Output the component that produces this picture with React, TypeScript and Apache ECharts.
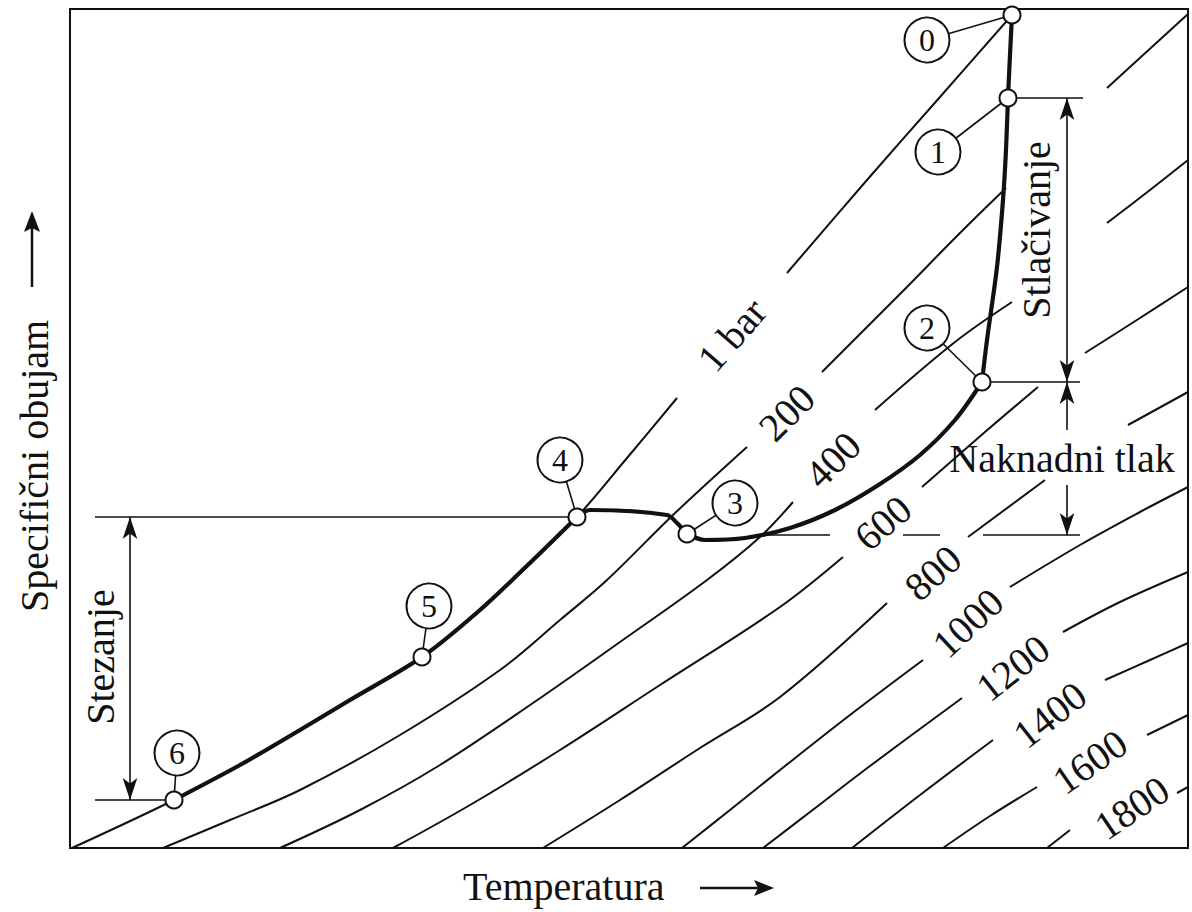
import React, { useEffect, useRef } from "react";
import * as echarts from "echarts";

const FONT = '"Liberation Serif", "Times New Roman", serif';
const INK = "#111111";

// Axis extents in arbitrary units (temperature T, specific volume v)
const T_MAX = 111.8;
const V_MAX = 83.9;

// Isobar names, in order from left (low pressure) to right (high pressure)
const isobarNames = ["1 bar", "200", "400", "600", "800", "1000", "1200", "1400", "1600", "1800"];

// Each isobar is a list of segments (gaps where labels / annotations sit); points are [T, v]
const isobar1bar = [
  [[0.2, 0], [10.4, 4.8], [17, 8.3], [23, 11.8], [28, 14.8], [35.2, 19.1], [41, 23.8], [46.3, 28.8], [50.7, 33.1], [55.7, 39], [60.7, 45]],
  [[71.7, 57.5], [79.7, 66.8], [87, 75.1], [94.2, 83.3]],
];
const isobar200 = [
  [[9.3, 0], [16, 2.8], [23, 5.8], [33, 11.3], [43, 17.8], [49, 22.8], [53.7, 26.8], [60.3, 33.3], [67.7, 40.1]],
  [[75.2, 47.6], [83, 55.4], [89, 61.5], [93.6, 66]],
  [[103.7, 76], [111.8, 83.4]],
];
const isobar400 = [
  [[21, 0], [29, 3.8], [37, 8.3], [46.3, 14.5], [55, 20.6], [63.7, 26.8], [69, 31.1], [72.3, 34.6]],
  [[80.5, 43.8], [88.5, 50.6], [94.2, 54.6]],
  [[103.7, 62.5], [108, 65.8], [111.8, 68.8]],
];
const isobar600 = [
  [[32.3, 0], [40, 4.3], [49, 9.8], [59, 16.3], [71, 24.1], [77.3, 29.1]],
  [[85.2, 36.1], [91.5, 41.6], [96.8, 46.1]],
  [[101.5, 49.5], [107, 53], [111.8, 56.1]],
];
const isobar800 = [
  [[47.3, 0], [55, 4.8], [63, 10], [71, 15.1], [81.7, 24.5]],
  [[89.8, 31.1], [97.5, 36.8]],
  [[105.8, 42.3], [111.8, 45.6]],
];
const isobar1000 = [
  [[61.2, 0], [66, 3.8], [71, 7.8], [78, 13.3], [85.3, 18.8]],
  [[94, 26.1], [101, 30.3], [107, 33.6], [111.8, 36.1]],
];
const isobar1200 = [
  [[69.3, 0], [74, 3.6], [80, 8.2], [89.2, 15]],
  [[99.3, 21.6], [105, 24.6], [111.8, 27.6]],
];
const isobar1400 = [
  [[78.2, 0], [85, 5.3], [92.3, 10.8]],
  [[103.5, 16.8], [108, 18.8], [111.8, 20.5]],
];
const isobar1600 = [
  [[87.3, 0], [92, 3.2], [96.7, 6.1]],
  [[107.7, 11.3], [111.8, 13.3]],
];
const isobar1800 = [
  [[97.7, 0], [100, 1.8]],
  [[110.7, 5.5], [111.8, 6.1]],
];
const isobars = [isobar1bar, isobar200, isobar400, isobar600, isobar800, isobar1000, isobar1200, isobar1400, isobar1600, isobar1800];

// Isobar label anchors [T, v, angle in degrees]
const isobarLabelAnchors = [
  [66.2, 51.3, 49], [71.7, 43.5, 45], [76.3, 38.8, 45], [81.3, 32.5, 41], [86.3, 27.5, 42],
  [89.8, 22.5, 43], [94.3, 18, 38], [98, 13.3, 38], [102, 8.6, 35], [106.2, 4, 34],
];

// Injection-moulding cycle path (thick line), in segments 0-1-2, 2-3, 3-4, 4-5-6
const path012 = [[94.2, 83.3], [94, 79.3], [93.8, 75], [93.6, 69.8], [93.3, 64.8], [92.7, 58.1], [91.7, 50.8], [91.2, 46.6]];
const path23 = [[91.2, 46.6], [88.5, 42.8], [85, 39.3], [81, 36.4], [76.5, 33.8], [72, 32], [67.5, 31], [63.5, 30.8], [61.7, 31.4]];
const path34 = [[61.7, 31.4], [60.7, 32.5], [59.7, 33.3], [52, 33.8], [50.7, 33.1]];
const path456 = [[50.7, 33.1], [46.3, 28.8], [41, 23.8], [35.2, 19.1], [28, 14.8], [23, 11.8], [17, 8.3], [10.4, 4.8]];

// State points 0..6 and their numbered bubbles
const stateNames = ["0", "1", "2", "3", "4", "5", "6"];
const statePoints = [[94.2, 83.3], [93.8, 75], [91.2, 46.6], [61.7, 31.4], [50.7, 33.1], [35.2, 19.1], [10.4, 4.8]];
const bubblePoints = [[85.7, 80.8], [86.8, 69.6], [85.7, 52], [66.5, 34.5], [49, 38.8], [35.9, 24.2], [10.7, 9.5]];

// Dimension (extension) lines
const dimHorizontal = [
  [[93.8, 75], [101.3, 75]],
  [[91.2, 46.6], [101, 46.6]],
  [[69, 31.3], [76, 31.3]],
  [[83.3, 31.3], [87, 31.3]],
  [[91.3, 31.3], [101, 31.3]],
  [[2.5, 33.1], [50.7, 33.1]],
  [[2.5, 4.8], [10.4, 4.8]],
];
const dimArrowX = { stlacivanje: 99.7, stezanje: 6 };

// Annotation texts [text, T, v, rotate]
const annotations: [string, number, number, number][] = [
  ["Stlačivanje", 96.6, 61.8, 90],
  ["Naknadni tlak", 99.2, 39, 0],
  ["Stezanje", 3.0, 19.1, 90],
];

const xTitle = "Temperatura";
const yTitle = "Specifični obujam";

export default function App() {
  const ref = useRef<HTMLDivElement>(null);

  useEffect(() => {
    document.body.style.margin = "0";
    const chart = echarts.init(ref.current!, null, { renderer: "svg" });
    const series: any[] = [];

    isobars.forEach((segs, i) => {
      segs.forEach((seg) => {
        series.push({
          type: "line",
          name: isobarNames[i],
          data: seg,
          smooth: 0.35,
          symbol: "none",
          silent: true,
          lineStyle: { color: INK, width: 2 },
          z: 2,
        });
      });
    });

    dimHorizontal.forEach((seg, i) => {
      const s: any = {
        type: "line",
        data: seg,
        symbol: "none",
        silent: true,
        lineStyle: { color: INK, width: 1.6 },
        z: 2,
      };
      if (i === 0) {
        s.markLine = {
          silent: true,
          symbol: ["arrow", "arrow"],
          symbolSize: [11, 22],
          label: { show: false },
          itemStyle: { color: INK },
          lineStyle: { color: INK, width: 1.6, type: "solid", opacity: 1 },
          data: [
            [{ coord: [dimArrowX.stlacivanje, 75] }, { coord: [dimArrowX.stlacivanje, 46.6] }],
            [{ coord: [dimArrowX.stlacivanje, 41.8], symbol: "none" }, { coord: [dimArrowX.stlacivanje, 46.6], symbol: "arrow" }],
            [{ coord: [dimArrowX.stlacivanje, 36.3], symbol: "none" }, { coord: [dimArrowX.stlacivanje, 31.3], symbol: "arrow" }],
            [{ coord: [dimArrowX.stezanje, 33.1] }, { coord: [dimArrowX.stezanje, 4.8] }],
          ],
        };
      }
      series.push(s);
    });

    [path012, path23, path34, path456].forEach((p) => {
      series.push({
        type: "line",
        data: p,
        smooth: 0.3,
        symbol: "none",
        silent: true,
        lineStyle: { color: INK, width: 4.2 },
        z: 4,
      });
    });

    // leader lines from bubbles to state points
    statePoints.forEach((pt, i) => {
      series.push({
        type: "line",
        data: [bubblePoints[i], pt],
        symbol: "none",
        silent: true,
        lineStyle: { color: INK, width: 1.6 },
        z: 3,
      });
    });

    series.push({
      type: "scatter",
      data: statePoints,
      symbol: "circle",
      symbolSize: 17,
      silent: true,
      itemStyle: { color: "#ffffff", borderColor: INK, borderWidth: 2, opacity: 1 },
      z: 6,
    });

    series.push({
      type: "scatter",
      data: bubblePoints.map((p, i) => ({ value: p, name: stateNames[i] })),
      symbol: "circle",
      symbolSize: 45,
      silent: true,
      itemStyle: { color: "#ffffff", borderColor: INK, borderWidth: 2, opacity: 1 },
      label: {
        show: true,
        position: "inside",
        formatter: "{b}",
        color: INK,
        fontFamily: FONT,
        fontSize: 32,
      },
      z: 7,
    });

    series.push({
      type: "scatter",
      data: isobarLabelAnchors.map((a, i) => ({
        value: [a[0], a[1]],
        name: isobarNames[i],
        label: { rotate: a[2] },
      })),
      symbolSize: 0,
      silent: true,
      itemStyle: { opacity: 1 },
      label: {
        show: true,
        position: "inside",
        formatter: "{b}",
        color: INK,
        fontFamily: FONT,
        fontSize: 40,
      },
      z: 5,
    });

    series.push({
      type: "scatter",
      data: annotations.map((a) => ({ value: [a[1], a[2]], name: a[0], label: { rotate: a[3] } })),
      symbolSize: 0,
      silent: true,
      itemStyle: { opacity: 1 },
      label: {
        show: true,
        position: "inside",
        formatter: "{b}",
        color: INK,
        fontFamily: FONT,
        fontSize: 40,
      },
      z: 5,
    });

    chart.setOption({
      animation: false,
      backgroundColor: "#ffffff",
      grid: {
        left: 70,
        top: 9,
        width: 1118,
        height: 839,
        show: true,
        borderColor: INK,
        borderWidth: 2,
        backgroundColor: "transparent",
      },
      xAxis: { type: "value", min: 0, max: T_MAX, show: false },
      yAxis: { type: "value", min: 0, max: V_MAX, show: false },
      series,
      graphic: [
        {
          type: "text",
          left: 463,
          top: 866,
          style: { text: xTitle, font: `40px ${FONT}`, fill: INK },
        },
        { type: "line", shape: { x1: 700, y1: 888, x2: 758, y2: 888 }, style: { stroke: INK, lineWidth: 2.5 } },
        { type: "polygon", shape: { points: [[774, 888], [754, 880], [758, 888], [754, 896]] }, style: { fill: INK } },
        {
          type: "text",
          x: 14,
          y: 612,
          rotation: Math.PI / 2,
          style: { text: yTitle, font: `40px ${FONT}`, fill: INK, textVerticalAlign: "top" },
        },
        { type: "line", shape: { x1: 32, y1: 287, x2: 32, y2: 228 }, style: { stroke: INK, lineWidth: 2.5 } },
        { type: "polygon", shape: { points: [[32, 211], [24, 232], [32, 228], [40, 232]] }, style: { fill: INK } },
      ],
    });
    return () => chart.dispose();
  }, []);

  return <div ref={ref} style={{ width: 1192, height: 912 }} />;
}
